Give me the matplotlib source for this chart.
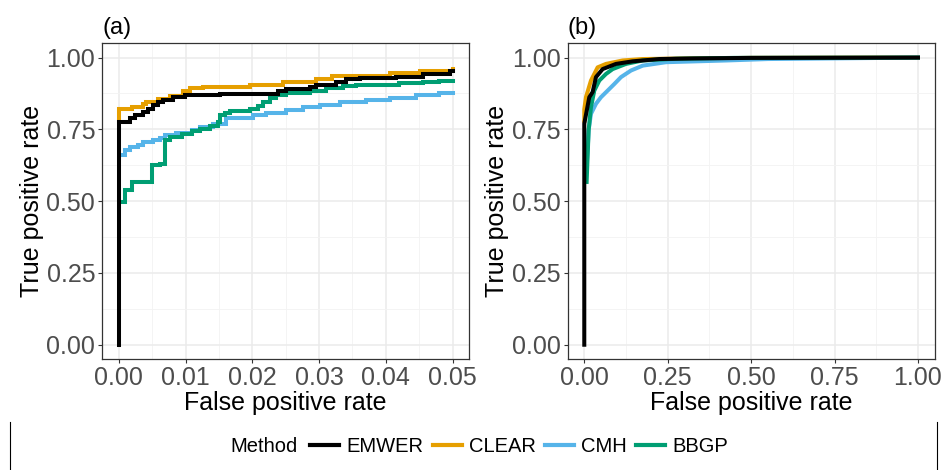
import numpy as np
import matplotlib.pyplot as plt
from matplotlib.lines import Line2D

plt.rcParams['font.family'] = ['Liberation Sans', 'DejaVu Sans']

methods = ['EMWER', 'CLEAR', 'CMH', 'BBGP']
colors = {'EMWER': '#000000', 'CLEAR': '#E69F00', 'CMH': '#56B4E9', 'BBGP': '#009E73'}

# panel (a): zoom on FPR 0..0.05 (step curves)
a_fpr = {
    'EMWER': [0, 0, 0.0016, 0.0024, 0.0036, 0.0044, 0.0051, 0.0059, 0.0066, 0.0081, 0.0099, 0.0151, 0.0238,
              0.0251, 0.0286, 0.0296, 0.0326, 0.0341, 0.0361, 0.0416, 0.0456, 0.0496, 0.0500],
    'CLEAR': [0, 0, 0.0019, 0.0036, 0.0041, 0.0059, 0.0076, 0.0096, 0.0106, 0.0126, 0.0196, 0.0246, 0.0296,
              0.0320, 0.0406, 0.0451, 0.0500],
    'CMH': [0.0004, 0.0009, 0.0016, 0.0029, 0.0036, 0.0051, 0.0061, 0.0069, 0.0086, 0.0109, 0.0121, 0.0141,
            0.0161, 0.0201, 0.0221, 0.0251, 0.0276, 0.0301, 0.0331, 0.0371, 0.0406, 0.0446, 0.0480, 0.0500],
    'BBGP': [0.0004, 0.0009, 0.0019, 0.0049, 0.0061, 0.0069, 0.0076, 0.0094, 0.0109, 0.0121, 0.0136, 0.0149,
             0.0151, 0.0159, 0.0166, 0.0196, 0.0209, 0.0216, 0.0226, 0.0236, 0.0251, 0.0286, 0.0311, 0.0336,
             0.0356, 0.0420, 0.0456, 0.0480, 0.0500],
}
a_tpr = {
    'EMWER': [0, 0.775, 0.789, 0.799, 0.810, 0.822, 0.836, 0.845, 0.854, 0.862, 0.868, 0.874, 0.882,
              0.891, 0.897, 0.905, 0.914, 0.926, 0.928, 0.934, 0.943, 0.952, 0.952],
    'CLEAR': [0.780, 0.822, 0.828, 0.839, 0.847, 0.856, 0.866, 0.885, 0.894, 0.899, 0.905, 0.914, 0.924,
              0.935, 0.946, 0.955, 0.960],
    'CMH': [0.660, 0.677, 0.689, 0.697, 0.706, 0.712, 0.720, 0.729, 0.738, 0.747, 0.758, 0.770,
            0.789, 0.799, 0.808, 0.819, 0.828, 0.836, 0.845, 0.853, 0.860, 0.868, 0.876, 0.876],
    'BBGP': [0.498, 0.540, 0.567, 0.625, 0.631, 0.712, 0.723, 0.735, 0.743, 0.752, 0.762, 0.775,
             0.801, 0.806, 0.8125, 0.822, 0.833, 0.845, 0.859, 0.870, 0.877, 0.885, 0.894, 0.900,
             0.906, 0.910, 0.915, 0.920, 0.920],
}

# panel (b): full curve
b_fpr = {
    'EMWER': [0, 0, 0.015, 0.025, 0.035, 0.055, 0.095, 0.145, 0.225, 0.325, 0.5, 1.0],
    'CLEAR': [0, 0, 0.005, 0.02, 0.04, 0.065, 0.115, 0.175, 0.3, 0.5, 1.0],
    'CMH': [0.007, 0.010, 0.013, 0.02, 0.035, 0.05, 0.07, 0.09, 0.11, 0.14, 0.175, 0.245, 0.425, 0.55, 1.0],
    'BBGP': [0.007, 0.013, 0.02, 0.03, 0.045, 0.065, 0.085, 0.125, 0.175, 0.275, 0.45, 1.0],
}
b_tpr = {
    'EMWER': [0, 0.77, 0.862, 0.88, 0.932, 0.96, 0.978, 0.987, 0.995, 0.997, 0.999, 1.0],
    'CLEAR': [0.78, 0.82, 0.862, 0.92, 0.966, 0.978, 0.99, 0.995, 0.997, 0.999, 1.0],
    'CMH': [0.62, 0.677, 0.747, 0.804, 0.839, 0.862, 0.885, 0.908, 0.932, 0.955, 0.972, 0.984, 0.99, 0.995, 1.0],
    'BBGP': [0.567, 0.747, 0.827, 0.885, 0.92, 0.943, 0.96, 0.978, 0.99, 0.996, 0.999, 1.0],
}

a_xticks = [0.00, 0.01, 0.02, 0.03, 0.04, 0.05]
b_xticks = [0.00, 0.25, 0.50, 0.75, 1.00]
yticks = [0.00, 0.25, 0.50, 0.75, 1.00]

fig = plt.figure(figsize=(9.46, 4.70), dpi=100)
ax_a = fig.add_axes([0.108, 0.236, 0.388, 0.672])
ax_b = fig.add_axes([0.600, 0.236, 0.388, 0.672])

draw_order = ['CLEAR', 'CMH', 'BBGP', 'EMWER']


def style_axes(ax, xticks, xmax):
    pad = 0.05 * xmax
    ax.set_xlim(-pad, xmax + pad)
    ax.set_ylim(-0.05, 1.05)
    ax.set_xticks(xticks)
    ax.set_yticks(yticks)
    ax.set_xticks(np.array(xticks[:-1]) + (xticks[1] - xticks[0]) / 2, minor=True)
    ax.set_yticks(np.array(yticks[:-1]) + 0.125, minor=True)
    ax.set_xticklabels(['%.2f' % t for t in xticks])
    ax.set_yticklabels(['%.2f' % t for t in yticks])
    ax.grid(True, which='major', color='#EBEBEB', lw=1.1)
    ax.grid(True, which='minor', color='#F3F3F3', lw=0.6)
    ax.set_axisbelow(True)
    ax.tick_params(which='major', labelsize=18, labelcolor='#4D4D4D', color='#333333', length=3,
                   width=0.8, pad=2)
    ax.tick_params(which='minor', length=0)
    for s in ax.spines.values():
        s.set_color('#333333')
        s.set_linewidth(0.9)
    ax.set_xlabel('False positive rate', fontsize=18, labelpad=1)
    ax.set_ylabel('True positive rate', fontsize=18, labelpad=2)


for m in draw_order:
    ax_a.plot(a_fpr[m], a_tpr[m], drawstyle='steps-post', color=colors[m], lw=2.9, solid_joinstyle='miter')
    ax_b.plot(b_fpr[m], b_tpr[m], color=colors[m], lw=2.9)

style_axes(ax_a, a_xticks, 0.05)
style_axes(ax_b, b_xticks, 1.0)

ax_a.text(0.0, 1.015, '(a)', transform=ax_a.transAxes, fontsize=17, va='bottom', ha='left')
ax_b.text(0.0, 1.015, '(b)', transform=ax_b.transAxes, fontsize=17, va='bottom', ha='left')

# legend: title inline on the left
handles = [Line2D([], [], color=colors[m], lw=3) for m in methods]
fig.legend(handles, methods, loc='center left', bbox_to_anchor=(0.328, 0.049), ncol=4, frameon=False,
           fontsize=14.5, handlelength=1.45, handletextpad=0.35, columnspacing=0.45, borderpad=0,
           borderaxespad=0)
fig.text(0.243, 0.049, 'Method', fontsize=14.5, ha='left', va='center')
fig.add_artist(Line2D([10 / 946, 10 / 946], [0, 48 / 470], color='black', lw=0.8))
fig.add_artist(Line2D([937 / 946, 937 / 946], [0, 48 / 470], color='black', lw=0.8))

fig.savefig('out.png', dpi=100)
